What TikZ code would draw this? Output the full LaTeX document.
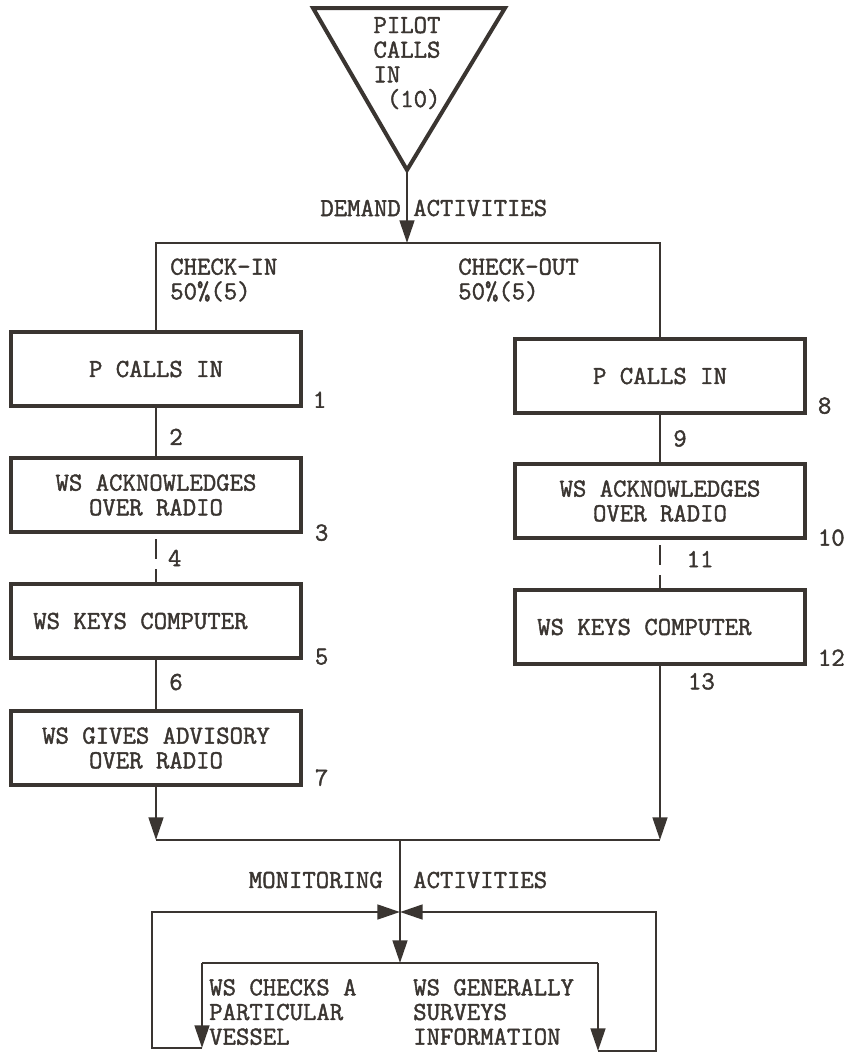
\documentclass[tikz,border=0pt]{standalone}
\usepackage{fontspec}
\usetikzlibrary{arrows.meta}
\definecolor{ink}{HTML}{3A3531}
\newfontfamily\typeface[FakeBold=1.6]{Latin Modern Mono}
\newcommand{\tyf}{\typeface\fontsize{19.5}{18.5}\selectfont}
\tikzset{
  box/.style={rectangle, draw=ink, line width=3pt, align=center, minimum width=217pt,
              minimum height=55pt, inner sep=3pt, font=\tyf, text=ink},
  txt/.style={font=\tyf, text=ink, inner sep=0pt},
  num/.style={font=\tyf, text=ink, inner sep=0pt, anchor=west},
  ln/.style={draw=ink, line width=2pt},
  fl/.style={-{Triangle[length=17pt, width=11pt]}, draw=ink, line width=2pt},
  dsh/.style={ln, dash pattern=on 0pt off 4pt on 15pt off 7.5pt on 40pt},
  tri/.style={draw=ink, line width=3pt},
}

\begin{document}
\begin{tikzpicture}[x=0.75pt, y=-0.75pt]
\useasboundingbox[fill=white] (0,0) rectangle (849,1057);

% caller
\coordinate (triL) at (313,8);
\coordinate (triR) at (505,8);
\coordinate (apex) at (407,170);
\draw[tri] (triL) -- (triR) -- (apex) -- cycle;
\node[txt, align=left] (pilot) at (407,63) {PILOT\\CALLS\\IN\\~(10)};

\coordinate (split) at (407,243);
\draw[fl] (apex) -- (split);
\node[txt, anchor=east] (dem) at (401,208) {DEMAND};
\node[txt, anchor=west] (demact) at (413,208) {ACTIVITIES};

% check-in / check-out chains
\node[box] (b1) at (156,369) {P CALLS IN};
\node[box] (b2) at (156,495) {WS ACKNOWLEDGES\\OVER RADIO};
\node[box] (b3) at (156,621) {WS KEYS COMPUTER\hspace*{1.2em}};
\node[box] (b4) at (156,748) {WS GIVES ADVISORY\\OVER RADIO};

\node[box] (c1) at (660,376) {P CALLS IN};
\node[box] (c2) at (660,501) {WS ACKNOWLEDGES\\OVER RADIO};
\node[box] (c3) at (660,627) {WS KEYS COMPUTER\hspace*{1.2em}};

\draw[ln] (b1.north) |- (split) -| (c1.north);
\node[txt, anchor=west, align=left] (cin) at (170,280) {CHECK-IN\\50\%(5)};
\node[txt, anchor=west, align=left] (cout) at (458,280) {CHECK-OUT\\50\%(5)};

\draw[ln] (b1.south) -- node[num, xshift=9pt, pos=0.6] {2} (b2.north);
\draw[dsh] (b2.south) -- node[num, xshift=8pt] {4} (b3.north);
\draw[ln] (b3.south) -- node[num, xshift=9pt, pos=0.45] {6} (b4.north);

\draw[ln] (c1.south) -- node[num, xshift=9pt, pos=0.5] {9} (c2.north);
\draw[dsh] (c2.south) -- node[num, xshift=19pt, pos=0.4] {11} (c3.north);

\node[num] (n1) at ([shift={(10,-8)}]b1.south east) {1};
\node[num] (n3) at ([shift={(12,-1)}]b2.south east) {3};
\node[num] (n5) at ([shift={(12,-3)}]b3.south east) {5};
\node[num] (n7) at ([shift={(12,-9)}]b4.south east) {7};
\node[num] (n8) at ([shift={(11,-9)}]c1.south east) {8};
\node[num] (n10) at ([shift={(11,-2)}]c2.south east) {10};
\node[num] (n12) at ([shift={(11,-8)}]c3.south east) {12};

% merge
\coordinate (busL) at (156,840);
\coordinate (busR) at (660,840);
\coordinate (busM) at (400,840);
\draw[fl] (b4.south) -- (busL);
\draw[fl] (c3.south) -- node[num, pos=0.09, xshift=20pt] {13} (busR);
\draw[ln] (busL) -- (busR);

% monitoring
\coordinate (hub) at (400,912);
\coordinate (actM) at (400,963);
\coordinate (actL) at (202,963);
\coordinate (actR) at (598,963);
\coordinate (botL) at (202,1048);
\coordinate (botR) at (598,1051);
\draw[fl] (busM) -- (actM);
\node[txt, anchor=east] (mon) at (383,880) {MONITORING};
\node[txt, anchor=west] (monact) at (413,880) {ACTIVITIES};

\draw[ln] (actL) -- (actR);
\draw[fl] (actL) -- (botL);
\draw[fl] (actR) -- (botR);
\draw[fl] (botL) -- ++(-50,0) |- (hub);
\draw[fl] (botR) -- ++(58,0) |- (hub);

\node[txt, anchor=west, align=left] (chk) at (209,1012) {WS CHECKS A\\PARTICULAR\\VESSEL};
\node[txt, anchor=west, align=left] (srv) at (413,1012) {WS GENERALLY\\SURVEYS\\INFORMATION};
\end{tikzpicture}
\end{document}
